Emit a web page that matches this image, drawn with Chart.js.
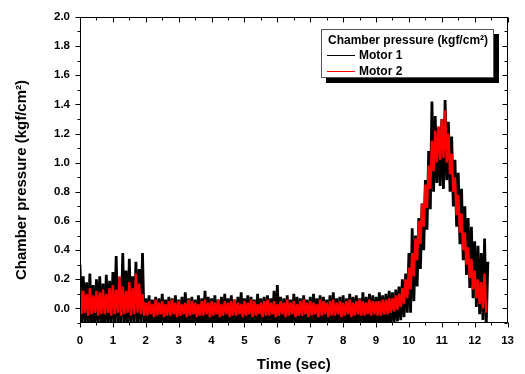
<!DOCTYPE html>
<html>
<head>
<meta charset="utf-8">
<script src="https://cdn.jsdelivr.net/npm/chart.js@4.4.1/dist/chart.umd.min.js"></script>
<style>
  html, body { margin: 0; padding: 0; background: #fff; }
  #wrap { position: relative; width: 525px; height: 374px; overflow: hidden;
          font-family: "Liberation Sans", Arial, sans-serif; }
  #chart { position: absolute; left: 0; top: 0; }
  #legend { position: absolute; left: 321px; top: 29px; width: 171px; height: 47px;
            border: 1px solid #555; background: #fff; box-shadow: 5px 5px 0 #000;
            font-weight: bold; font-size: 12px; color: #000; }
  #legend .ttl { position: absolute; left: 6px; top: 3px; line-height: 14px; white-space: nowrap; }
  #legend .row { position: absolute; left: 5px; line-height: 14px; white-space: nowrap; }
  #legend .sw { position: absolute; left: 0; top: 7px; width: 28px; height: 1px; }
  #legend .lbl { position: absolute; left: 32px; top: 0; }
</style>
</head>
<body>
<div id="wrap">
  <canvas id="chart" width="525" height="374"></canvas>
  <div id="legend"></div>
</div>
<script>
// ---- data ----
const seriesNames = ["Motor 1", "Motor 2"];
const legendTitle = "Chamber pressure (kgf/cm\u00B2)";
const xAxisTitle = "Time (sec)";
const yAxisTitle = "Chamber pressure (kgf/cm\u00B2)";
const sampleInterval = 0.05; // seconds between samples
const xTickLabels = [0,1,2,3,4,5,6,7,8,9,10,11,12,13];
const yTickLabels = [0.0,0.2,0.4,0.6,0.8,1.0,1.2,1.4,1.6,1.8,2.0];

// Motor 1 (black), alternating crest / trough samples
const motor1Pressure = [
  0.30,-0.12, 0.22,-0.10, 0.18,-0.13, 0.24,-0.11, 0.16,-0.14, 0.20,-0.10, 0.22,-0.12, 0.17,-0.13, 0.23,-0.11, 0.19,-0.12,
  0.25,-0.10, 0.36,-0.13, 0.21,-0.12, 0.38,-0.11, 0.26,-0.14, 0.34,-0.12, 0.22,-0.10, 0.32,-0.13, 0.27,-0.11, 0.38,-0.12,
  0.07,-0.12, 0.09,-0.13, 0.06,-0.11, 0.08,-0.14, 0.07,-0.12, 0.10,-0.10, 0.06,-0.13, 0.08,-0.12, 0.07,-0.11, 0.09,-0.14,
  0.06,-0.12, 0.08,-0.13, 0.11,-0.11, 0.07,-0.14, 0.08,-0.12, 0.06,-0.10, 0.09,-0.13, 0.07,-0.12, 0.12,-0.11, 0.08,-0.14,
  0.07,-0.12, 0.09,-0.13, 0.06,-0.11, 0.08,-0.14, 0.10,-0.12, 0.07,-0.10, 0.09,-0.13, 0.06,-0.12, 0.08,-0.11, 0.11,-0.14,
  0.07,-0.12, 0.09,-0.13, 0.08,-0.11, 0.06,-0.14, 0.10,-0.12, 0.07,-0.10, 0.08,-0.13, 0.09,-0.12, 0.07,-0.11, 0.12,-0.14,
  0.16,-0.12, 0.08,-0.13, 0.07,-0.11, 0.09,-0.14, 0.06,-0.12, 0.10,-0.10, 0.08,-0.13, 0.07,-0.12, 0.09,-0.11, 0.06,-0.14,
  0.08,-0.12, 0.10,-0.13, 0.07,-0.11, 0.09,-0.14, 0.08,-0.12, 0.06,-0.10, 0.09,-0.13, 0.11,-0.12, 0.07,-0.11, 0.08,-0.14,
  0.09,-0.12, 0.07,-0.13, 0.10,-0.11, 0.08,-0.14, 0.09,-0.12, 0.07,-0.10, 0.11,-0.13, 0.08,-0.12, 0.10,-0.11, 0.09,-0.14,
  0.08,-0.12, 0.11,-0.12, 0.09,-0.11, 0.10,-0.12, 0.12,-0.11, 0.11,-0.10, 0.13,-0.09, 0.15,-0.08, 0.20,-0.06, 0.24,-0.03,
  0.38,-0.03, 0.55, 0.05, 0.50, 0.15, 0.62, 0.27, 0.72, 0.40, 0.88, 0.54, 1.08, 0.68, 1.42, 0.80, 1.32, 0.86, 1.24, 0.84,
  1.30, 0.82, 1.43, 0.88, 1.28, 0.80, 1.18, 0.70, 1.02, 0.56, 0.93, 0.44, 0.82, 0.33, 0.70, 0.23, 0.62, 0.14, 0.56, 0.07,
  0.46, 0.01, 0.43,-0.04, 0.38,-0.08, 0.48,-0.12, 0.32
];

// Motor 2 (red), alternating crest / trough samples
const motor2Pressure = [
  0.15,-0.04, 0.12,-0.03, 0.10,-0.05, 0.14,-0.04, 0.09,-0.03, 0.12,-0.05, 0.11,-0.04, 0.13,-0.04, 0.10,-0.03, 0.14,-0.05,
  0.16,-0.04, 0.13,-0.03, 0.22,-0.05, 0.15,-0.04, 0.12,-0.03, 0.18,-0.05, 0.14,-0.04, 0.24,-0.03, 0.17,-0.04, 0.10,-0.05,
  0.04,-0.05, 0.05,-0.04, 0.03,-0.06, 0.06,-0.05, 0.04,-0.04, 0.05,-0.06, 0.03,-0.05, 0.05,-0.05, 0.06,-0.04, 0.04,-0.06,
  0.05,-0.05, 0.03,-0.04, 0.04,-0.06, 0.06,-0.05, 0.05,-0.04, 0.04,-0.06, 0.03,-0.05, 0.05,-0.05, 0.06,-0.04, 0.04,-0.06,
  0.05,-0.05, 0.04,-0.04, 0.06,-0.06, 0.03,-0.05, 0.05,-0.04, 0.04,-0.06, 0.05,-0.05, 0.06,-0.05, 0.04,-0.04, 0.03,-0.06,
  0.05,-0.05, 0.04,-0.04, 0.06,-0.06, 0.05,-0.05, 0.03,-0.04, 0.04,-0.06, 0.05,-0.05, 0.06,-0.05, 0.04,-0.04, 0.05,-0.06,
  0.03,-0.05, 0.05,-0.04, 0.04,-0.06, 0.06,-0.05, 0.04,-0.04, 0.05,-0.06, 0.03,-0.05, 0.05,-0.05, 0.06,-0.04, 0.04,-0.06,
  0.05,-0.05, 0.04,-0.04, 0.03,-0.06, 0.06,-0.05, 0.05,-0.04, 0.04,-0.06, 0.05,-0.05, 0.06,-0.05, 0.04,-0.04, 0.05,-0.06,
  0.04,-0.05, 0.05,-0.04, 0.06,-0.06, 0.04,-0.05, 0.05,-0.04, 0.06,-0.05, 0.05,-0.05, 0.04,-0.04, 0.06,-0.05, 0.05,-0.04,
  0.05,-0.05, 0.05,-0.05, 0.06,-0.04, 0.06,-0.04, 0.07,-0.03, 0.07,-0.02, 0.09,-0.01, 0.10, 0.01, 0.14, 0.03, 0.20, 0.07,
  0.28, 0.13, 0.38, 0.22, 0.48, 0.33, 0.60, 0.44, 0.72, 0.56, 0.85, 0.69, 0.98, 0.82, 1.15, 0.94, 1.22, 1.00, 1.25, 1.02,
  1.30, 1.03, 1.36, 1.00, 1.20, 0.92, 1.06, 0.80, 0.90, 0.64, 0.78, 0.52, 0.65, 0.40, 0.52, 0.30, 0.42, 0.21, 0.34, 0.13,
  0.26, 0.07, 0.20, 0.03, 0.18, 0.00, 0.24,-0.03
];

const seriesColors = ["#000000", "#ff0000"];

// ---- build chart ----
function toPoints(values) {
  return values.map((v, i) => ({ x: +(i * sampleInterval).toFixed(2), y: v }));
}

const FONT = '"Liberation Sans", Arial, sans-serif';

const frameAndTicks = {
  id: 'frameAndTicks',
  afterDraw(chart) {
    const { ctx, chartArea: a, scales: { x, y } } = chart;
    const L = Math.round(a.left) + 0.5, R = Math.round(a.right) - 0.5;
    const T = Math.round(a.top) + 0.5, B = Math.round(a.bottom) - 0.5;
    ctx.save();
    ctx.strokeStyle = '#000';
    ctx.lineWidth = 1;
    ctx.strokeRect(L, T, R - L, B - T);
    ctx.beginPath();
    for (let i = -1; i <= 20; i++) {
      const py = Math.round(y.getPixelForValue(i / 10)) + 0.5;
      const len = (i % 2 === 0) ? 5 : 3;
      ctx.moveTo(L, py); ctx.lineTo(L - len, py);
      ctx.moveTo(R, py); ctx.lineTo(R - len, py);
    }
    for (let j = 0; j <= 26; j++) {
      const px = Math.round(x.getPixelForValue(j / 2)) + 0.5;
      const len = (j % 2 === 0) ? 5 : 3;
      ctx.moveTo(px, B); ctx.lineTo(px, B + len);
      ctx.moveTo(px, T); ctx.lineTo(px, T + len);
    }
    ctx.stroke();
    // y axis title
    ctx.translate(22, 180);
    ctx.rotate(-Math.PI / 2);
    ctx.fillStyle = '#000';
    ctx.font = 'bold 15px ' + FONT;
    ctx.textAlign = 'center';
    ctx.textBaseline = 'middle';
    ctx.fillText(yAxisTitle, 0, 0);
    ctx.restore();
  }
};

new Chart(document.getElementById('chart'), {
  type: 'line',
  data: {
    datasets: [
      { label: seriesNames[0], data: toPoints(motor1Pressure), borderColor: seriesColors[0],
        borderWidth: 2.8, borderJoinStyle: 'bevel', pointRadius: 0, tension: 0, clip: 0, order: 2 },
      { label: seriesNames[1], data: toPoints(motor2Pressure), borderColor: seriesColors[1],
        borderWidth: 2.4, borderJoinStyle: 'bevel', pointRadius: 0, tension: 0, clip: 0, order: 1 }
    ]
  },
  options: {
    responsive: false,
    animation: false,
    devicePixelRatio: 1,
    layout: { padding: { top: 14, right: 14, left: 0, bottom: 0 } },
    plugins: { legend: { display: false }, tooltip: { enabled: false } },
    scales: {
      x: {
        type: 'linear', min: 0, max: 13,
        grid: { display: false, drawTicks: false },
        border: { display: false },
        afterBuildTicks: s => { s.ticks = xTickLabels.map(v => ({ value: v })); },
        afterFit: s => { s.height = 51; },
        ticks: { color: '#000', padding: 11, maxRotation: 0,
                 font: { family: FONT, size: 11.5, weight: 'bold' },
                 callback: v => String(v) },
        title: { display: true, text: xAxisTitle, color: '#000', padding: 0,
                 font: { family: FONT, size: 15, weight: 'bold' } }
      },
      y: {
        type: 'linear', min: -0.1, max: 2.0,
        grid: { display: false, drawTicks: false },
        border: { display: false },
        afterBuildTicks: s => { s.ticks = yTickLabels.map(v => ({ value: v })); },
        afterFit: s => { s.width = 80; },
        ticks: { color: '#000', padding: 10,
                 font: { family: FONT, size: 11.5, weight: 'bold' },
                 callback: v => Number(v).toFixed(1) }
      }
    }
  },
  plugins: [frameAndTicks]
});

// ---- legend (HTML) ----
const lg = document.getElementById('legend');
const ttl = document.createElement('div');
ttl.className = 'ttl'; ttl.textContent = legendTitle; lg.appendChild(ttl);
seriesNames.forEach((name, i) => {
  const row = document.createElement('div');
  row.className = 'row'; row.style.top = (18 + i * 16) + 'px';
  const sw = document.createElement('div');
  sw.className = 'sw'; sw.style.background = seriesColors[i];
  const lb = document.createElement('span');
  lb.className = 'lbl'; lb.textContent = name;
  row.appendChild(sw); row.appendChild(lb); lg.appendChild(row);
});
</script>
</body>
</html>
